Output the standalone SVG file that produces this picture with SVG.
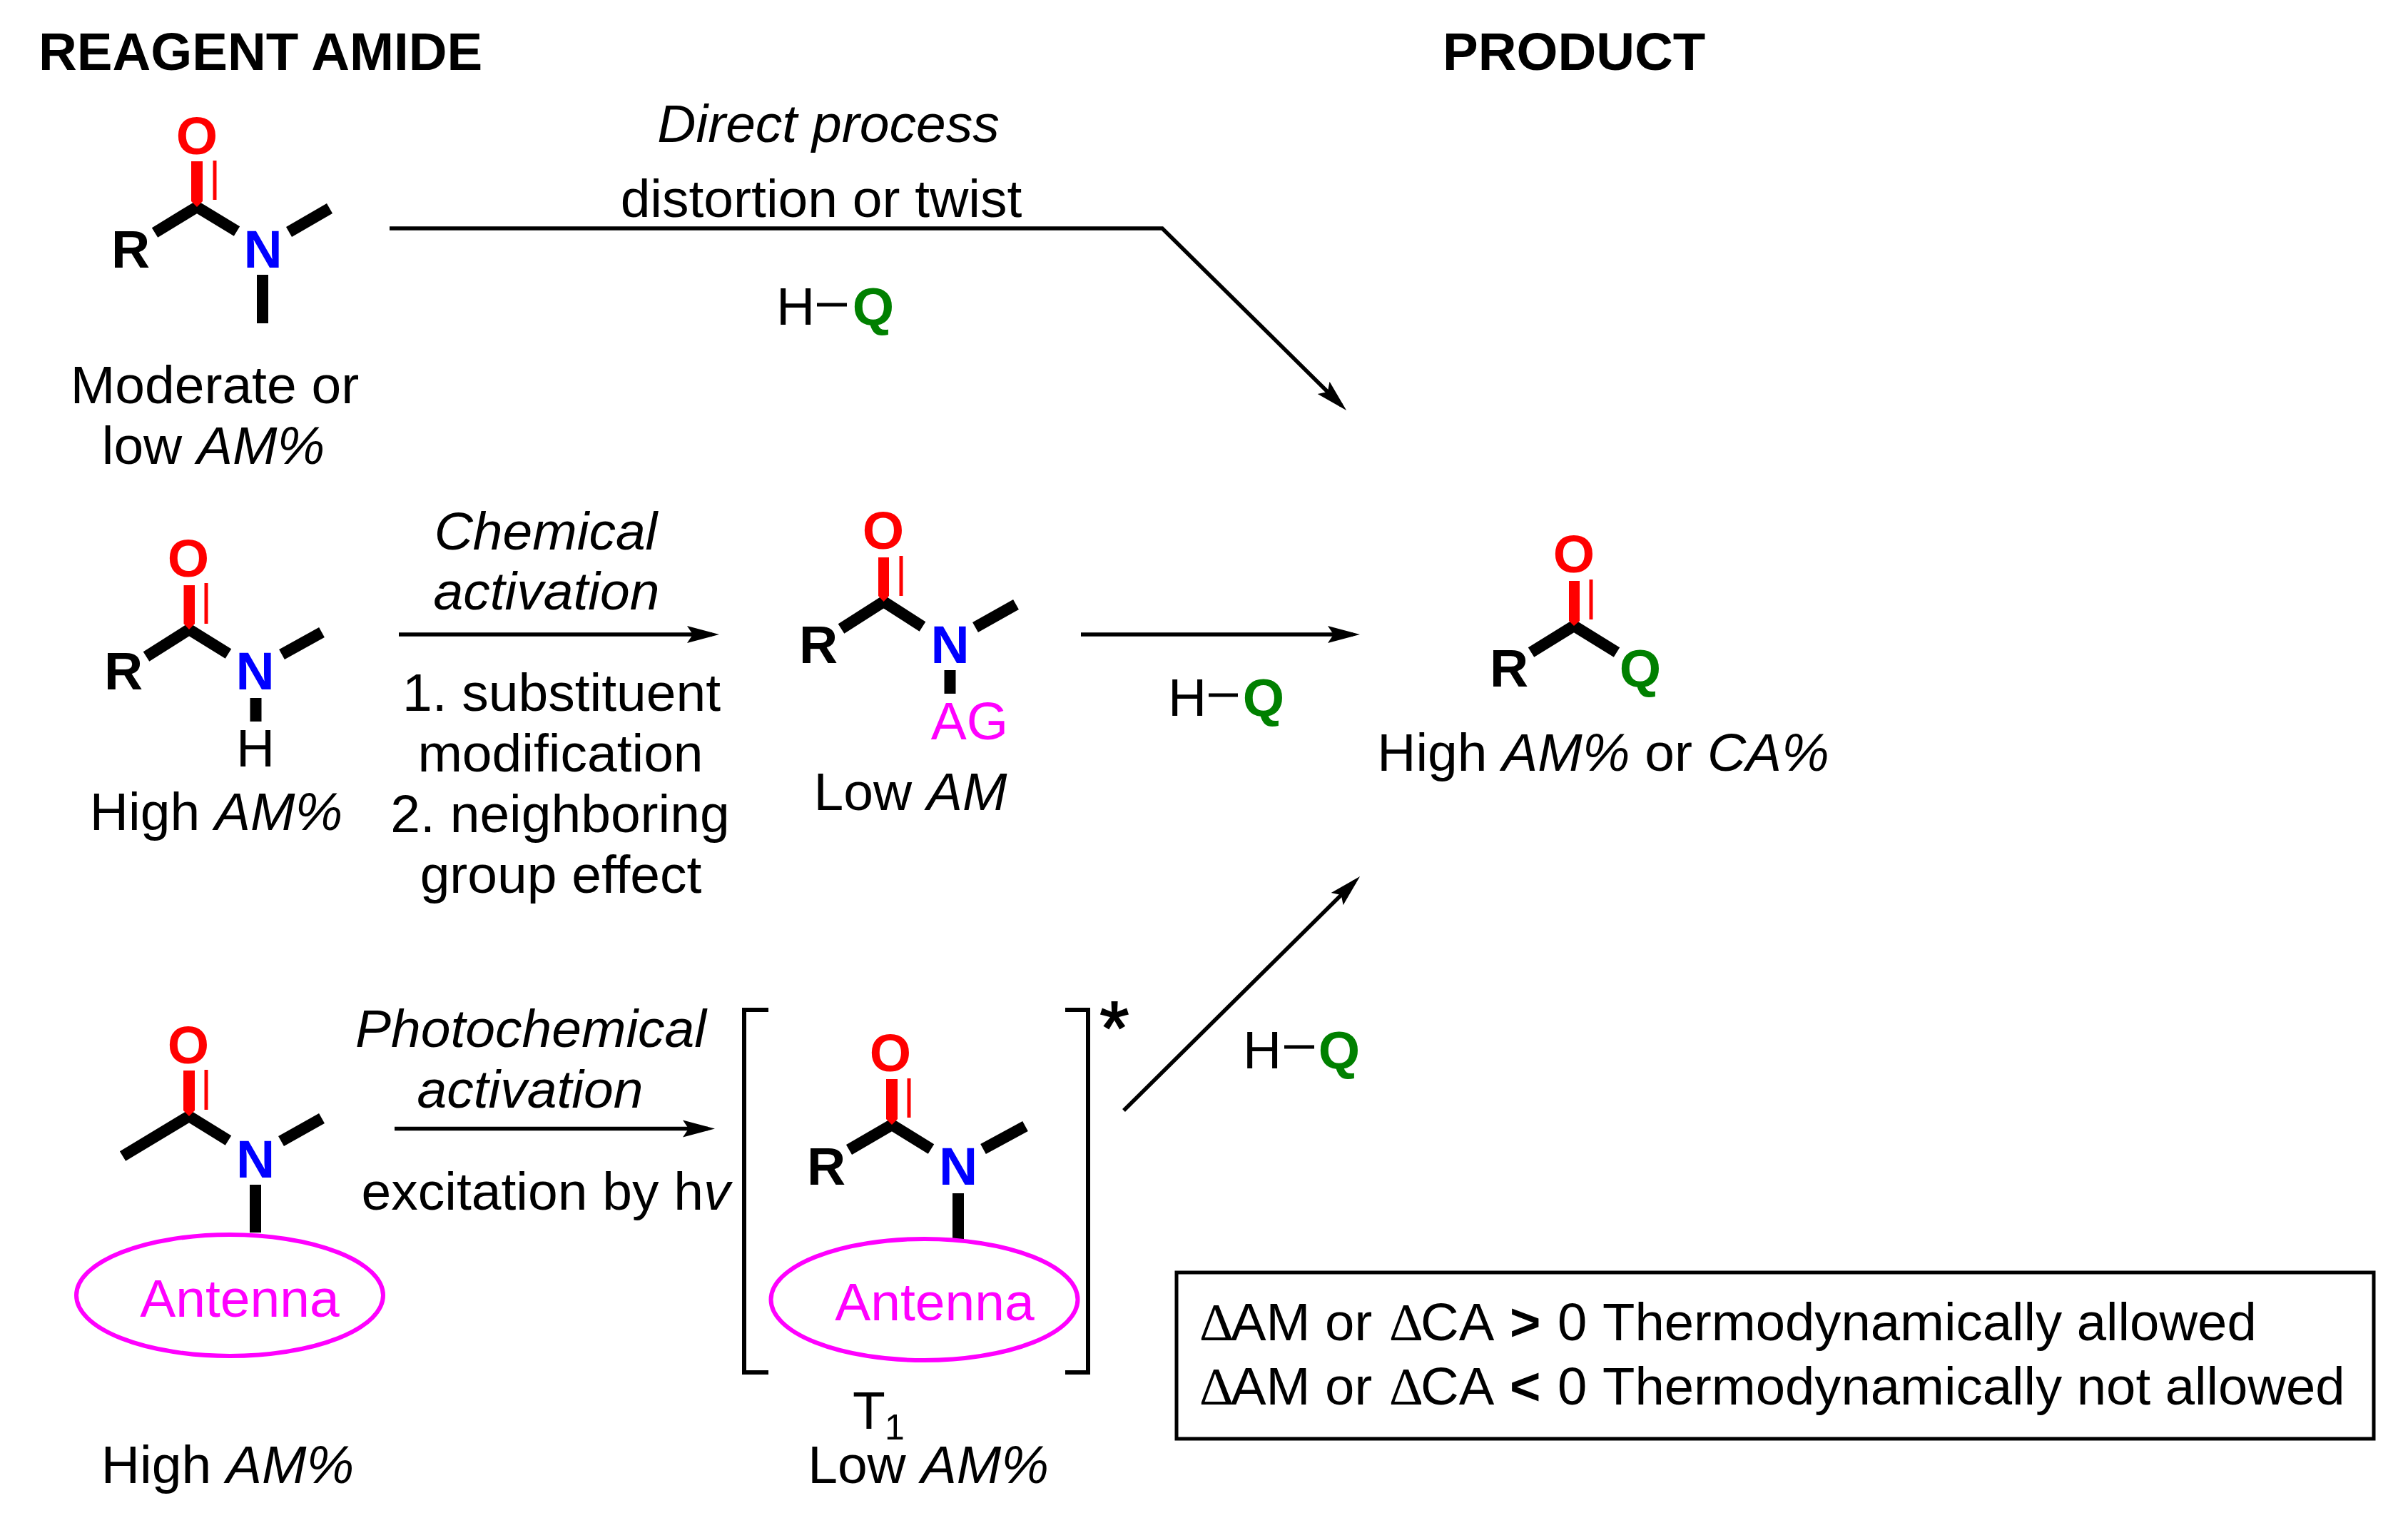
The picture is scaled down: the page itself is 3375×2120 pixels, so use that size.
<svg xmlns="http://www.w3.org/2000/svg" width="3375" height="2120" viewBox="0 0 3375 2120">
<defs>
<style>
text{font-family:"Liberation Sans",Arial,sans-serif;font-size:75px;fill:#000;text-anchor:middle}
.h{font-size:74.500px;font-weight:700;text-anchor:start}
.a{font-size:75px;font-weight:700}
.O{fill:#f00}.N{fill:#00f}.Q{fill:#008000}.M{fill:#f0f}
.i{font-style:italic}
.bb{fill:none;stroke:#000;stroke-width:16;stroke-miterlimit:10}
.rb{fill:#f00}
.rt{stroke:#f00;stroke-width:5}
.dash{stroke:#000;stroke-width:5}
.ant{fill:#fff;stroke:#f0f;stroke-width:6}
.br{fill:none;stroke:#000;stroke-width:6}
.con{fill:none;stroke:#000;stroke-width:5.5;marker-end:url(#ah)}
.box{font-size:74.300px;text-anchor:start}
.d{font-family:"Liberation Serif",serif}
.b{font-weight:700}
.star{font-size:105px;stroke:#000;stroke-width:2}
</style>
<marker id="ah" viewBox="0 0 45 26" refX="35" refY="13" markerWidth="45" markerHeight="26" markerUnits="userSpaceOnUse" orient="auto"><path d="M0,1 L45,13 L0,25 L8,13 Z" fill="#000"/></marker>
</defs>
<rect width="3375" height="2120" fill="#fff"/>
<g id="connectors">
<path class="con" d="M546,320 L1629,320 L1880,568"/>
<path class="con" d="M559,889 L998,889"/>
<path class="con" d="M1515,889 L1896,889"/>
<path class="con" d="M553,1581.5 L992,1581.5"/>
<path class="con" d="M1575,1556 L1899,1235"/>
</g>
<g id="headers">
<text class="h" x="54" y="98">REAGENT AMIDE</text>
<text class="h" x="2022" y="98">PRODUCT</text>
</g>
<g id="amide-moderate">
<polyline class="bb" points="217,326 276,290 332,324"/>
<polygon class="rb" points="268,226 284,226 284,282 276,290 268,282"/>
<line class="rt" x1="301" y1="225" x2="301" y2="280"/>
<line class="bb" x1="405" y1="325" x2="462" y2="292"/>
<line class="bb" x1="368" y1="385" x2="368" y2="453"/>
<text class="a O" x="276" y="216">O</text>
<text class="a N" x="368.500" y="375">N</text>
<text class="a" x="183" y="375">R</text>
<text x="301" y="565">Moderate or</text>
<text x="299" y="650">low <tspan class="i">AM%</tspan></text>
</g>
<g id="direct-label">
<text class="i" x="1161" y="199">Direct process</text>
<text x="1151" y="304">distortion or twist</text>
<text x="1115" y="455">H</text>
<line class="dash" x1="1145" y1="427" x2="1187" y2="427"/>
<text class="a Q" x="1224" y="455">Q</text>
</g>
<g id="amide-high">
<polyline class="bb" points="205,920 265,882 320,916"/>
<polygon class="rb" points="257.500,820 273,820 273,874 265,882 257.500,874"/>
<line class="rt" x1="289" y1="817" x2="289" y2="874"/>
<line class="bb" x1="395" y1="917" x2="451" y2="886"/>
<line class="bb" x1="358.500" y1="978" x2="358.500" y2="1011"/>
<text class="a O" x="264" y="808">O</text>
<text class="a N" x="357.500" y="966">N</text>
<text class="a" x="173" y="966">R</text>
<text x="358" y="1074">H</text>
<text x="303" y="1163">High <tspan class="i">AM%</tspan></text>
</g>
<g id="chemical-label">
<text class="i" x="765" y="770">Chemical</text>
<text class="i" x="766" y="854">activation</text>
<text x="787" y="996">1. substituent</text>
<text x="785.500" y="1081">modification</text>
<text x="785" y="1166">2. neighboring</text>
<text x="786" y="1251">group effect</text>
</g>
<g id="amide-low">
<polyline class="bb" points="1179,881 1238.500,843 1293,878"/>
<polygon class="rb" points="1231,781 1246,781 1246,835 1238.500,843 1231,835"/>
<line class="rt" x1="1263" y1="779" x2="1263" y2="835"/>
<line class="bb" x1="1367" y1="879" x2="1424" y2="847"/>
<line class="bb" x1="1331.500" y1="939" x2="1331.500" y2="972"/>
<text class="a O" x="1238" y="769">O</text>
<text class="a N" x="1331.500" y="929">N</text>
<text class="a" x="1147" y="929">R</text>
<text class="M" x="1359" y="1036">AG</text>
<text x="1276" y="1135">Low <tspan class="i">AM</tspan></text>
</g>
<g id="hq-middle">
<text x="1664" y="1003">H</text>
<line class="dash" x1="1694" y1="974" x2="1735" y2="974"/>
<text class="a Q" x="1771" y="1003">Q</text>
</g>
<g id="product">
<polyline class="bb" points="2146,914 2206,877 2266,914"/>
<polygon class="rb" points="2199,814 2214,814 2214,870 2206,877 2199,870"/>
<line class="rt" x1="2230" y1="812" x2="2230" y2="868"/>
<text class="a O" x="2206" y="802">O</text>
<text class="a" x="2115" y="962">R</text>
<text class="a Q" x="2299" y="962">Q</text>
<text x="2247" y="1080">High <tspan class="i">AM%</tspan> or <tspan class="i">CA%</tspan></text>
</g>
<g id="amide-antenna">
<polyline class="bb" points="172,1620 265,1564 320,1598"/>
<polygon class="rb" points="257,1500 273,1500 273,1556 265,1564 257,1556"/>
<line class="rt" x1="289" y1="1499" x2="289" y2="1555"/>
<line class="bb" x1="394" y1="1599" x2="451" y2="1567"/>
<line class="bb" x1="358" y1="1660" x2="358" y2="1727"/>
<ellipse class="ant" cx="322" cy="1815" rx="215" ry="85"/>
<text class="a O" x="264" y="1490">O</text>
<text class="a N" x="358" y="1650">N</text>
<text class="M" x="336" y="1845">Antenna</text>
<text x="319" y="2078">High <tspan class="i">AM%</tspan></text>
</g>
<g id="photo-label">
<text class="i" x="744" y="1467">Photochemical</text>
<text class="i" x="743" y="1552">activation</text>
<text x="765" y="1695">excitation by h<tspan class="i">v</tspan></text>
</g>
<g id="excited-amide">
<path class="br" d="M1077,1415 H1043 V1923 H1077"/>
<path class="br" d="M1493,1415 H1525 V1923 H1493"/>
<text class="star" x="1562" y="1477">*</text>
<polyline class="bb" points="1190,1611 1250,1576 1305,1610"/>
<polygon class="rb" points="1242,1512 1258,1512 1258,1568 1250,1576 1242,1568"/>
<line class="rt" x1="1274" y1="1511" x2="1274" y2="1566"/>
<line class="bb" x1="1378" y1="1610" x2="1437" y2="1578"/>
<line class="bb" x1="1343" y1="1672" x2="1343" y2="1737"/>
<ellipse class="ant" cx="1295.500" cy="1821" rx="215" ry="85"/>
<text class="a O" x="1248" y="1501">O</text>
<text class="a N" x="1343" y="1660">N</text>
<text class="a" x="1158" y="1660">R</text>
<text class="M" x="1310" y="1850">Antenna</text>
<text x="1218" y="2002">T</text>
<text x="1254" y="2017" style="font-size:50px">1</text>
<text x="1301" y="2078">Low <tspan class="i">AM%</tspan></text>
</g>
<g id="hq-lower">
<text x="1769" y="1497">H</text>
<line class="dash" x1="1800" y1="1467" x2="1842" y2="1467"/>
<text class="a Q" x="1877" y="1497">Q</text>
</g>
<g id="legend">
<rect x="1649" y="1783" width="1678" height="233" fill="#fff" stroke="#000" stroke-width="5"/>
<text class="box" y="1878"><tspan class="d" x="1681">Δ</tspan><tspan x="1725">AM or</tspan><tspan class="d" x="1947">Δ</tspan><tspan x="1991">CA</tspan><tspan class="b" x="2116">&gt;</tspan><tspan x="2183">0</tspan><tspan x="2246">Thermodynamically allowed</tspan></text>
<text class="box" y="1968"><tspan class="d" x="1681">Δ</tspan><tspan x="1725">AM or</tspan><tspan class="d" x="1947">Δ</tspan><tspan x="1991">CA</tspan><tspan class="b" x="2116">&lt;</tspan><tspan x="2183">0</tspan><tspan x="2246">Thermodynamically not allowed</tspan></text>
</g>
</svg>
